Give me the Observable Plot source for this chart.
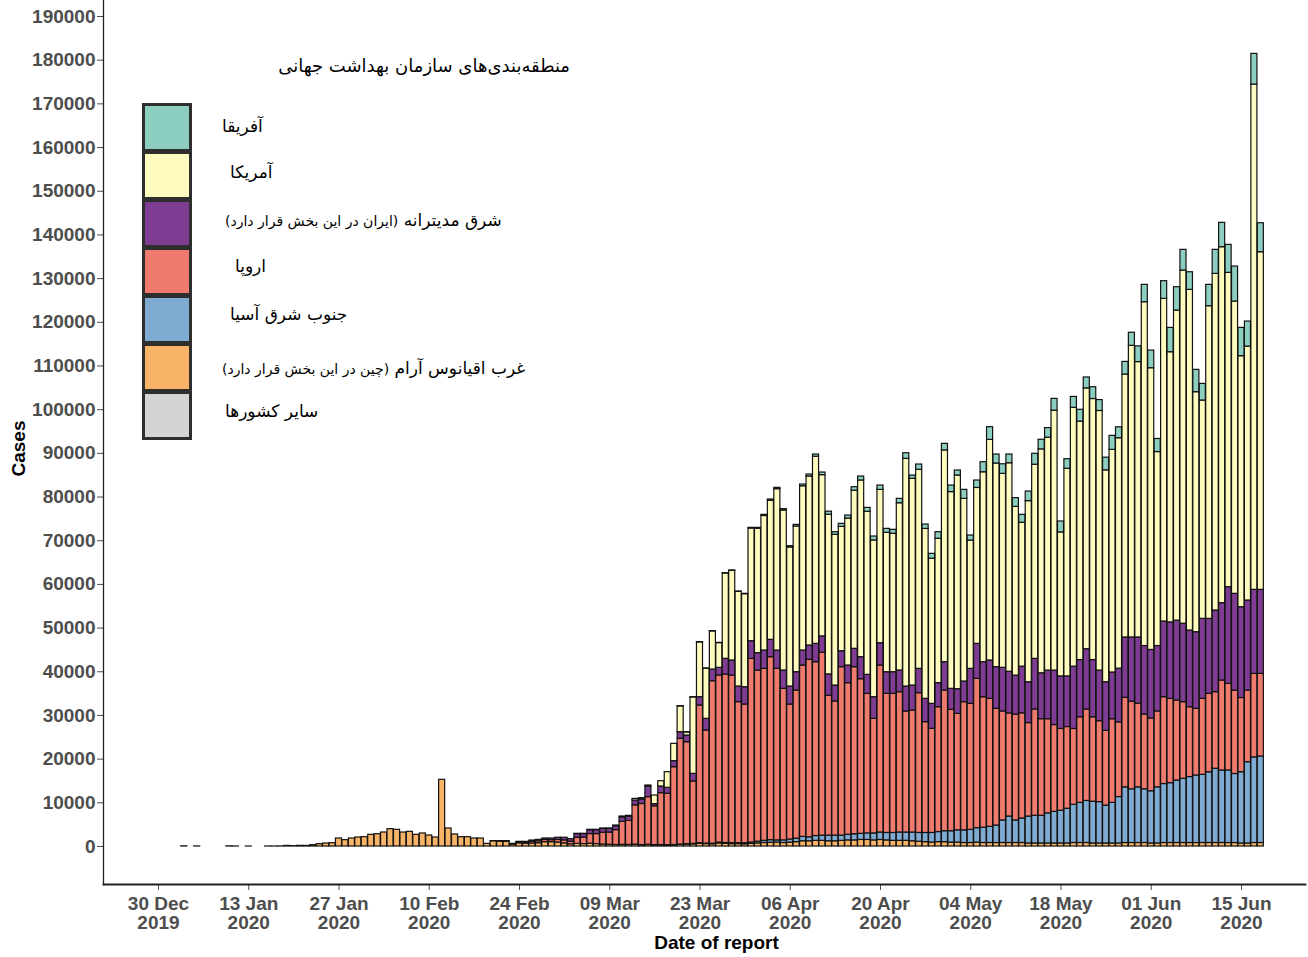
<!DOCTYPE html>
<html>
<head>
<meta charset="utf-8">
<script src="https://cdn.jsdelivr.net/npm/d3@7"></script>
<script src="https://cdn.jsdelivr.net/npm/@observablehq/plot@0.6"></script>
<style>
  body { margin: 0; background: #fff; }
  #wrap { position: relative; width: 1308px; height: 957px; overflow: hidden; background: #fff; }
  #wrap svg { position: absolute; left: 0; top: 0; }
  .lgtitle, .lglab { position: absolute; font-family: "DejaVu Sans", sans-serif; color: #000; white-space: nowrap; direction: rtl; line-height: 24px; }
  .lgtitle { font-size: 18px; }
  .lglab { font-size: 17px; }
  .lglab small { font-size: 14px; }
  .sw { position: absolute; left: 142px; width: 50px; height: 49px; box-sizing: border-box; border: 3.5px solid #2e2e2e; }
</style>
</head>
<body>
<div id="wrap"></div>
<script>
// ---------- data ----------
const regionKeys   = ["other", "wp", "sea", "eur", "emr", "amr", "afr"]; // stacking order, bottom to top
const regionColors = ["#d4d4d4", "#f7b366", "#7fabd3", "#ee7b6e", "#7e3d93", "#fdfbbd", "#8ccfc1"];
const legendOrder  = ["afr", "amr", "emr", "eur", "sea", "wp", "other"];
const legendLabels = {
  afr: "آفریقا",
  amr: "آمریکا",
  emr: "شرق مدیترانه <small>(ایران در این بخش قرار دارد)</small>",
  eur: "اروپا",
  sea: "جنوب شرق آسیا",
  wp: "غرب اقیانوس آرام <small>(چین در این بخش قرار دارد)</small>",
  other: "سایر کشورها"
};
const legendTitle = "منطقه\u200cبندی\u200cهای سازمان بهداشت جهانی";

const yTicks = [0, 10000, 20000, 30000, 40000, 50000, 60000, 70000, 80000, 90000, 100000,
  110000, 120000, 130000, 140000, 150000, 160000, 170000, 180000, 190000];
const xTicks = ["2019-12-30", "2020-01-13", "2020-01-27", "2020-02-10", "2020-02-24", "2020-03-09",
  "2020-03-23", "2020-04-06", "2020-04-20", "2020-05-04", "2020-05-18", "2020-06-01", "2020-06-15"];

// Western Pacific, daily from 2020-01-03
const wpStart = "2020-01-03";
const wpValues = [
  44, 0, 15, 0, 0, 0, 0, 41, 1, 0, 1, 0, 0, 1, 4, 17, 136, 77, 149, 131, 300, 530, 690, 760, 1830, 1450, 1830, 2060, 2140,
  2670, 2820, 3200, 3970, 3820, 3200, 3360, 2670, 2980, 2520, 2060, 15260, 4120, 2750, 2130, 2130, 1830, 1830, 610, 1200, 1150, 1100, 450, 750, 650, 700, 750, 1000, 1000,
  900, 700, 500, 600, 550, 650, 550, 450, 400, 350, 350, 350, 400, 300, 350, 300, 300, 250, 300, 400, 450, 500, 600, 550, 500, 700, 600, 550, 550, 500, 600,
  700, 800, 850, 900, 800, 900, 1000, 1200, 1200, 1300, 1300, 1200, 1200, 1300, 1400, 1400, 1500, 1500, 1400, 1500, 1400, 1300, 1300, 1300, 1200, 1100, 1000, 900, 1000, 1000,
  900, 900, 800, 800, 900, 800, 800, 800, 800, 800, 800, 800, 700, 700, 700, 700, 700, 700, 700, 800, 800, 800, 700, 700, 700, 700, 700, 800, 800, 800, 800,
  700, 700, 800, 800, 800, 800, 800, 800, 800, 800, 800, 800, 800, 800, 700, 700, 800, 800
];

// South-East Asia, daily from 2020-03-11
const seaStart = "2020-03-11";
const seaValues = [
  20, 20, 30, 30, 50, 30, 40, 50, 50, 60, 80, 100, 150, 120, 150, 200, 200, 200, 200, 250, 300,
  400, 500, 600, 500, 600, 700, 800, 1000, 900, 1100, 1200, 1300, 1300, 1200, 1300, 1400, 1400, 1500, 1600, 1700, 1700, 1800, 1900, 1900, 2000, 2000, 2100, 2200, 2300, 2500,
  2600, 2800, 2900, 3000, 3300, 3500, 3700, 4000, 5170, 6060, 5170, 5620, 6160, 6340, 6340, 6880, 7230, 7500, 7940, 8740, 9180, 9630, 9550, 9460, 8660, 9280, 10620, 12740, 12300, 12740, 12300,
  11950, 12840, 13500, 13700, 14300, 14700, 15100, 15450, 15600, 16200, 17000, 16600, 16600, 15800, 16300, 18600, 19600, 19800
];

// Europe, daily from 2020-02-20
const eurStart = "2020-02-20";
const eurValues = [
  20, 20, 60, 100, 200, 250, 400, 450, 500, 450,
  600, 700, 600, 1400, 1500, 2200, 2300, 2700, 2800, 3400, 5300, 5500, 9000, 9400, 10900, 8870, 11870, 11760, 17810, 24190, 23350, 14280, 31520, 25880, 37200, 38240, 38570, 38390, 32290, 31750, 42060,
  39190, 39370, 41890, 39270, 34690, 30900, 33910, 39230, 40630, 39790, 41870, 32000, 30690, 38550, 34690, 38250, 35400, 31950, 26220, 38230, 31850, 31850, 32130, 27700, 27930, 32000, 25360, 23830, 28590, 32210,
  27780, 26670, 29340, 28860, 34180, 29880, 29300, 26710, 24950, 23620, 24240, 24060, 21390, 24330, 22100, 21560, 19870, 18710, 18710, 17370, 19600, 20940, 19330, 18530, 17110, 19160, 17110, 20500, 20050, 19160, 17110,
  16670, 17380, 19880, 19300, 18320, 17540, 15990, 15260, 17400, 17950, 17530, 20600, 19830, 19100, 17000, 16410, 19120, 18920
];

// Eastern Mediterranean, daily from 2020-02-21
const emrStart = "2020-02-21";
const emrValues = [
  50, 60, 60, 120, 170, 270, 320, 330, 380,
  500, 600, 580, 850, 800, 900, 900, 870, 820, 900, 1000, 950, 1100, 1050, 2400, 500, 1520, 1370, 1370, 1520, 1530, 1750, 1910, 2670, 2660, 1760, 3590, 3440, 3580, 3970, 4040,
  3960, 4190, 3970, 4190, 4200, 4120, 4200, 3430, 3280, 4200, 3730, 4900, 3660, 3660, 4040, 4200, 5040, 4340, 4960, 5110, 4950, 4950, 4960, 5720, 5720, 5570, 5340, 5730, 5500, 6480,
  4810, 5640, 4730, 8010, 8010, 8010, 8780, 9540, 9980, 9530, 8910, 10690, 9350, 11580, 10510, 11130, 12470, 12030, 11590, 14260, 13100, 13800, 13100, 11580, 11130, 10690, 12290, 13810, 14700, 15150, 15680,
  15680, 14970, 17320, 17500, 18280, 17960, 17550, 17550, 18310, 17160, 18690, 17700, 22130, 22140, 20780, 20600, 19230, 19230
];

// Americas, daily from 2020-03-04
const amrStart = "2020-03-04";
const amrValues = [
  50, 50, 70, 70, 100, 100, 150, 200, 200, 370, 280, 260, 1970, 1220, 3580, 3970, 5900, 700, 17500, 12550, 11480, 8730, 5660, 19540, 20520, 21670, 21290, 25800,
  28500, 30800, 31820, 36940, 36630, 31830, 33350, 37600, 38700, 42840, 36910, 36550, 34500, 28450, 33640, 36200, 40450, 37330, 35880, 35090, 31910, 31690, 38290, 52110, 47310, 45570, 38900, 33230, 33060, 48480,
  45040, 48910, 41810, 29370, 35690, 43480, 50510, 46620, 44400, 47720, 38630, 32950, 41460, 44450, 51260, 53310, 59500, 32960, 47520, 59240, 54590, 59700, 59760, 59430, 48510, 50970, 52740, 60180, 66760, 63040, 78710,
  64490, 44400, 73860, 61850, 70990, 80850, 77980, 54940, 49980, 71570, 77060, 81490, 71950, 66910, 57460, 58140, 115670, 77290
];

// Africa, daily from 2020-03-20
const afrStart = "2020-03-20";
const afrValues = [
  50, 60, 50, 40, 40, 50, 60, 70, 80, 80, 80, 140,
  190, 260, 300, 300, 300, 300, 370, 400, 440, 500, 600, 700, 600, 700, 700, 800, 900, 900, 900, 1000, 900, 900, 1000, 1300, 760, 1200, 1000, 1100, 1500, 1500,
  1500, 1150, 2060, 1150, 1700, 2300, 2900, 2060, 2200, 2000, 2000, 1800, 2200, 2500, 2200, 2200, 2700, 2500, 2200, 2500, 2700, 2500, 2700, 2500, 2900, 3200, 2500, 2900, 3000, 3600, 3970,
  4040, 3000, 4050, 5570, 5340, 4730, 4040, 5110, 3810, 4890, 5500, 5570, 6410, 8010, 6480, 5720, 7020, 6640
];

// Other (conveyance), not visible in the picture
const otherStart = "2020-02-07";
const otherValues = [0, 0, 0, 0, 0];

// ---------- build table ----------
const series = [
  {key: "other", start: otherStart, values: otherValues},
  {key: "wp", start: wpStart, values: wpValues},
  {key: "sea", start: seaStart, values: seaValues},
  {key: "eur", start: eurStart, values: eurValues},
  {key: "emr", start: emrStart, values: emrValues},
  {key: "amr", start: amrStart, values: amrValues},
  {key: "afr", start: afrStart, values: afrValues}
];
const rows = [];
for (const s of series) {
  const t0 = new Date(s.start + "T00:00:00Z");
  s.values.forEach((v, i) => rows.push({region: s.key, date: d3.utcDay.offset(t0, i), value: v}));
}

const DAY = 864e5;
const tick0 = new Date("2019-12-30T00:00:00Z");
const xDomain = [new Date(+tick0 - 8.53 * DAY), new Date(+tick0 + 177.93 * DAY)];
const yDomain = [-8699, 193664];
const fmtDM = d3.utcFormat("%d %b"), fmtY = d3.utcFormat("%Y");

const chart = Plot.plot({
  width: 1308,
  height: 957,
  marginLeft: 103,
  marginRight: 3,
  marginTop: 0,
  marginBottom: 73,
  style: {fontFamily: "'Liberation Sans', Arial, sans-serif", fontWeight: "bold", fontSize: "19px", background: "transparent", overflow: "visible"},
  x: {type: "utc", domain: xDomain, axis: null},
  y: {domain: yDomain, axis: null},
  color: {domain: regionKeys, range: regionColors},
  marks: [
    Plot.rectY(rows, Plot.stackY({
      x1: d => new Date(+d.date - 0.47 * DAY),
      x2: d => new Date(+d.date + 0.47 * DAY),
      y: "value",
      fill: "region",
      order: regionKeys,
      stroke: "#111",
      strokeWidth: 1.2
    })),
    Plot.axisY({ticks: yTicks, tickFormat: d3.format("d"), tickSize: 6, tickPadding: 2, color: "#4d4d4d", label: null, fontSize: 19}),
    Plot.axisX({ticks: xTicks.map(s => new Date(s + "T00:00:00Z")), tickFormat: d => fmtDM(d) + "\n" + fmtY(d), tickSize: 6, tickPadding: 6, color: "#4d4d4d", label: null, lineHeight: 1.0, fontSize: 19}),
    Plot.frame({anchor: "left", stroke: "#222", strokeWidth: 1.3}),
    Plot.frame({anchor: "bottom", stroke: "#222", strokeWidth: 1.8}),
    Plot.text(["Cases"], {frameAnchor: "left", rotate: -90, dx: -85, dy: 34, fill: "#000", fontSize: 19}),
    Plot.text(["Date of report"], {frameAnchor: "bottom", dx: 12, dy: 64, fill: "#000", fontSize: 19})
  ]
});
const wrap = document.getElementById("wrap");
wrap.appendChild(chart);

// ---------- legend (HTML overlay) ----------
const colorOf = Object.fromEntries(regionKeys.map((k, i) => [k, regionColors[i]]));
const t = document.createElement("div");
t.className = "lgtitle";
t.style.right = (1308 - 570) + "px";
t.style.top = (66 - 12) + "px";
t.textContent = legendTitle;
wrap.appendChild(t);

const labelLeft = {afr: 222, amr: 230, emr: 225, eur: 235, sea: 230, wp: 222, other: 225};
const labelY = {afr: 126, amr: 172, emr: 220, eur: 266, sea: 314, wp: 368, other: 411};
legendOrder.forEach((k, i) => {
  const sw = document.createElement("div");
  sw.className = "sw";
  sw.style.top = (103 + i * 48) + "px";
  sw.style.background = colorOf[k];
  wrap.appendChild(sw);
  const lab = document.createElement("div");
  lab.className = "lglab";
  lab.style.left = labelLeft[k] + "px";
  lab.style.top = (labelY[k] - 12) + "px";
  lab.innerHTML = legendLabels[k];
  wrap.appendChild(lab);
});
</script>
</body>
</html>
